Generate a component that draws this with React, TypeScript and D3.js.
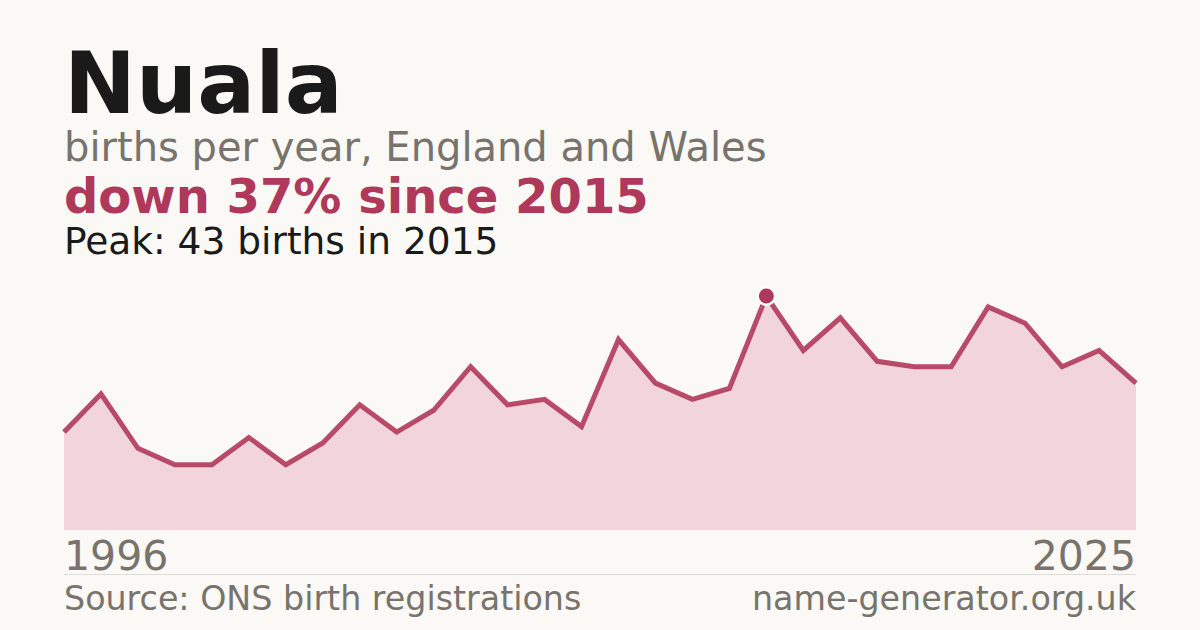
import React from 'react';
import * as d3 from 'd3';

const years = d3.range(1996, 2026);
const births = [
  18, 25, 15, 12, 12, 17, 12, 16, 23, 18,
  22, 30, 23, 24, 19, 35, 27, 24, 26, 43,
  33, 39, 31, 30, 30, 41, 38, 30, 33, 27,
];

const W = 1200;
const H = 630;
const FONT = '"DejaVu Sans", sans-serif';
const RED = '#b0385a';

const App: React.FC = () => {
  const margin = { left: 64, right: 64, top: 296, bottom: 100 };
  const x = d3.scaleLinear().domain([years[0], years[years.length - 1]]).range([margin.left, W - margin.right]);
  const maxV = d3.max(births) || 1;
  const y = d3.scaleLinear().domain([0, maxV]).range([H - margin.bottom, margin.top]);

  const pts = years.map((yr, i) => ({ yr, v: births[i] }));
  const line = d3.line<{ yr: number; v: number }>().x(d => x(d.yr)).y(d => y(d.v));
  const area = d3.area<{ yr: number; v: number }>().x(d => x(d.yr)).y0(y(0)).y1(d => y(d.v));

  const peakIdx = births.indexOf(maxV);
  const peak = pts[peakIdx];
  const last = births[births.length - 1];
  const pct = Math.round((1 - last / maxV) * 100);

  return (
    <svg width={W} height={H} style={{ position: 'absolute', left: 0, top: 0, display: 'block' }} fontFamily={FONT}>
      <rect width={W} height={H} fill="#faf9f5" />
      <text x={64} y={113} fontSize={86} fontWeight="bold" fill="#1a1a1a">Nuala</text>
      <text x={64} y={161} fontSize={40} fill="#78736d">births per year, England and Wales</text>
      <text x={64} y={213} fontSize={48} fontWeight="bold" fill={RED}>down {pct}% since {peak.yr}</text>
      <text x={64} y={254} fontSize={37.5} fill="#1a1a1a">Peak: {maxV} births in {peak.yr}</text>

      <path d={area(pts) || ''} fill="#f1d5da" />
      <path d={line(pts) || ''} fill="none" stroke={RED} strokeWidth={5} strokeOpacity={0.9} strokeLinejoin="miter" />
      {/* peak marker: white halo under a solid dot */}
      <circle cx={x(peak.yr)} cy={y(peak.v)} r={10} fill="#ffffff" />
      <circle cx={x(peak.yr)} cy={y(peak.v)} r={7.5} fill={RED} />

      <text x={64} y={570} fontSize={41} fill="#78736d">{years[0]}</text>
      <text x={W - 64} y={570} fontSize={41} fill="#78736d" textAnchor="end">{years[years.length - 1]}</text>
      <line x1={64} x2={W - 64} y1={574.5} y2={574.5} stroke="#e0ddd6" strokeWidth={1} />
      <text x={64} y={610} fontSize={33.3} fill="#78736d">Source: ONS birth registrations</text>
      <text x={W - 64} y={610} fontSize={33.3} fill="#78736d" textAnchor="end">name-generator.org.uk</text>
    </svg>
  );
};

export default App;
